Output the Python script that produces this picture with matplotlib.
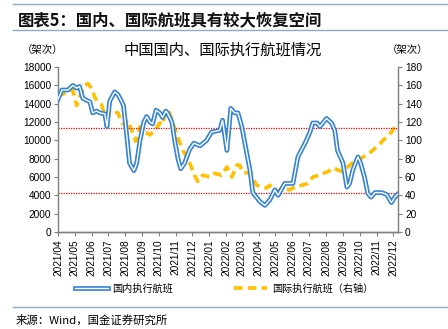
import matplotlib
matplotlib.use("Agg")
import numpy as np
import pandas as pd
import matplotlib.pyplot as plt
import matplotlib.dates as mdates
import matplotlib.patheffects as pe

plt.rcParams['font.family'] = ['Liberation Sans', 'Noto Sans CJK SC', 'DejaVu Sans']

# domestic flights (left axis)
dom_dates = ["2021-04-01", "2021-04-08", "2021-04-19", "2021-04-28", "2021-05-05", "2021-05-10",
             "2021-05-16", "2021-05-29", "2021-06-03", "2021-06-10", "2021-06-16", "2021-06-25",
             "2021-06-29", "2021-07-04", "2021-07-13", "2021-07-19", "2021-07-26", "2021-07-29",
             "2021-08-04", "2021-08-09", "2021-08-17", "2021-08-22", "2021-08-28", "2021-09-04",
             "2021-09-09", "2021-09-15", "2021-09-20", "2021-09-26", "2021-10-03", "2021-10-08",
             "2021-10-14", "2021-10-17", "2021-10-25", "2021-10-30", "2021-11-05", "2021-11-10",
             "2021-11-17", "2021-11-26", "2021-12-04", "2021-12-15", "2021-12-27", "2022-01-05",
             "2022-01-20", "2022-01-25", "2022-02-02", "2022-02-09", "2022-02-16", "2022-02-22",
             "2022-03-01", "2022-03-16", "2022-03-21", "2022-04-03", "2022-04-12", "2022-04-21",
             "2022-04-30", "2022-05-06", "2022-05-18", "2022-06-02", "2022-06-11", "2022-06-24",
             "2022-07-03", "2022-07-08", "2022-07-16", "2022-07-21", "2022-08-02", "2022-08-11",
             "2022-08-17", "2022-08-22", "2022-09-01", "2022-09-08", "2022-09-13", "2022-09-19",
             "2022-09-28", "2022-10-03", "2022-10-10", "2022-10-16", "2022-10-22", "2022-10-29",
             "2022-11-10", "2022-11-19", "2022-11-28", "2022-12-04", "2022-12-09"]
dom_vals = [14500, 15500, 15500, 16000, 15700, 15900,
            14600, 14200, 13000, 13200, 13000, 12900,
            11500, 14300, 15300, 15000, 14200, 13800,
            10500, 7500, 6700, 7500, 10000, 12000,
            12600, 12000, 11800, 13300, 13000, 12500,
            13200, 13000, 12000, 10000, 8000, 6900,
            7500, 9000, 9700, 9400, 10000, 10900,
            11100, 12200, 8900, 13500, 13000, 13000,
            11500, 6700, 4300, 3300, 2900, 3500,
            4600, 4000, 5300, 5300, 8200, 9700,
            10900, 11900, 11900, 11500, 12400, 11900,
            11100, 8900, 7500, 4900, 5300, 6800,
            8200, 7500, 6000, 4200, 3800, 4300,
            4300, 4100, 3200, 3800, 4100]

# international flights (right axis)
intl_dates = ["2021-04-01", "2021-04-08", "2021-04-19", "2021-04-28", "2021-05-05", "2021-05-10",
              "2021-05-20", "2021-05-25", "2021-06-01", "2021-06-07", "2021-06-12", "2021-06-19",
              "2021-06-25", "2021-06-29", "2021-07-04", "2021-07-09", "2021-07-19", "2021-07-26",
              "2021-07-31", "2021-08-05", "2021-08-13", "2021-08-20", "2021-08-28", "2021-09-06",
              "2021-09-15", "2021-09-24", "2021-10-03", "2021-10-08", "2021-10-12", "2021-10-19",
              "2021-10-25", "2021-11-03", "2021-11-14", "2021-11-26", "2021-12-05", "2021-12-11",
              "2021-12-20", "2022-01-02", "2022-01-11", "2022-01-23", "2022-02-02", "2022-02-11",
              "2022-02-20", "2022-02-25", "2022-03-03", "2022-03-16", "2022-03-28", "2022-04-06",
              "2022-04-15", "2022-04-21", "2022-04-30", "2022-05-09", "2022-05-18", "2022-05-27",
              "2022-06-05", "2022-06-18", "2022-06-29", "2022-07-08", "2022-07-21", "2022-07-27",
              "2022-08-05", "2022-08-14", "2022-08-21", "2022-08-30", "2022-09-08", "2022-09-17",
              "2022-09-26", "2022-10-05", "2022-10-14", "2022-10-23", "2022-11-01", "2022-11-10",
              "2022-11-19", "2022-11-28", "2022-12-07"]
intl_vals = [153, 150, 153, 155, 138, 147,
             160, 162, 157, 147, 142, 139,
             128, 118, 133, 131, 130, 119,
             117, 122, 111, 99, 115, 109,
             106, 111, 119, 117, 128, 133,
             122, 106, 89, 76, 62, 55,
             62, 60, 64, 62, 71, 60,
             73, 73, 65, 64, 51, 49,
             48, 51, 44, 46, 48, 46,
             49, 51, 53, 60, 62, 64,
             66, 70, 68, 66, 70, 75,
             77, 81, 84, 88, 93, 98,
             104, 109, 117]

ref_high = 11300
ref_low = 4300

blue = "#3583D3"
gold = "#FFC000"
cjk = ['Noto Sans CJK SC', 'DejaVu Sans']

fig = plt.figure(figsize=(4.48, 3.29), dpi=100)
ax = fig.add_axes([0.1295, 0.295, 0.759, 0.501])
ax2 = ax.twinx()

d1 = pd.to_datetime(dom_dates)
d2 = pd.to_datetime(intl_dates)

ax.axhline(ref_high, color="red", lw=0.9, ls=(0, (1, 1)), zorder=1)
ax.axhline(ref_low, color="red", lw=0.9, ls=(0, (1, 1)), zorder=1)

l1, = ax.plot(d1, dom_vals, color="white", lw=1.0, zorder=3,
              path_effects=[pe.Stroke(linewidth=3.4, foreground=blue), pe.Normal()],
              label="国内执行航班")
l2, = ax2.plot(d2, intl_vals, color=gold, lw=2.6, ls=(0, (2.4, 1.4)), zorder=2,
               label="国际执行航班（右轴）")

ax.set_zorder(ax2.get_zorder() + 1)
ax.patch.set_visible(False)

ax.set_ylim(0, 18000)
ax.set_yticks(np.arange(0, 18001, 2000))
ax2.set_ylim(0, 180)
ax2.set_yticks(np.arange(0, 181, 20))
ax.set_xlim(pd.Timestamp("2021-04-01"), pd.Timestamp("2022-12-10"))
ax.xaxis.set_major_locator(mdates.MonthLocator())
ax.xaxis.set_major_formatter(mdates.DateFormatter("%Y/%m"))
for lab in ax.get_xticklabels():
    lab.set_rotation(90)

for a in (ax, ax2):
    a.spines["top"].set_visible(False)
    for s in a.spines.values():
        s.set_color("#7f7f7f")
        s.set_linewidth(1.0)
    a.tick_params(labelsize=7.3, length=3, width=0.8, color="#7f7f7f", pad=2)
ax.spines["right"].set_visible(False)
ax2.spines["left"].set_visible(False)

fig.legend(handles=[l1, l2], loc="center", bbox_to_anchor=(0.5, 0.122), ncol=2,
           frameon=False, prop={'family': cjk, 'size': 7.3}, handlelength=3.2,
           columnspacing=6.0, handletextpad=0.5)

fig.text(0.497, 0.848, "中国国内、国际执行航班情况", ha="center", va="center",
         fontsize=11, family=cjk)
fig.text(0.095, 0.848, "（架次）", ha="center", va="center", fontsize=7.5, family=cjk)
fig.text(0.91, 0.848, "（架次）", ha="center", va="center", fontsize=7.5, family=cjk)

fig.text(0.04, 0.935, "图表5：国内、国际航班具有较大恢复空间", ha="left", va="center",
         fontsize=11.8, fontweight="bold", family=cjk, color="#111111")
fig.add_artist(plt.Line2D([0.028, 1.0], [0.988, 0.988], color="#8DA9C4", lw=1.0))
fig.add_artist(plt.Line2D([0.028, 1.0], [0.909, 0.909], color="#8DA9C4", lw=1.0))
fig.add_artist(plt.Line2D([0.028, 1.0], [0.067, 0.067], color="#8DA9C4", lw=1.0))
fig.text(0.035, 0.028, "来源：Wind，国金证券研究所", ha="left", va="center",
         fontsize=8.2, family=cjk)

fig.savefig("out.png", dpi=100)
